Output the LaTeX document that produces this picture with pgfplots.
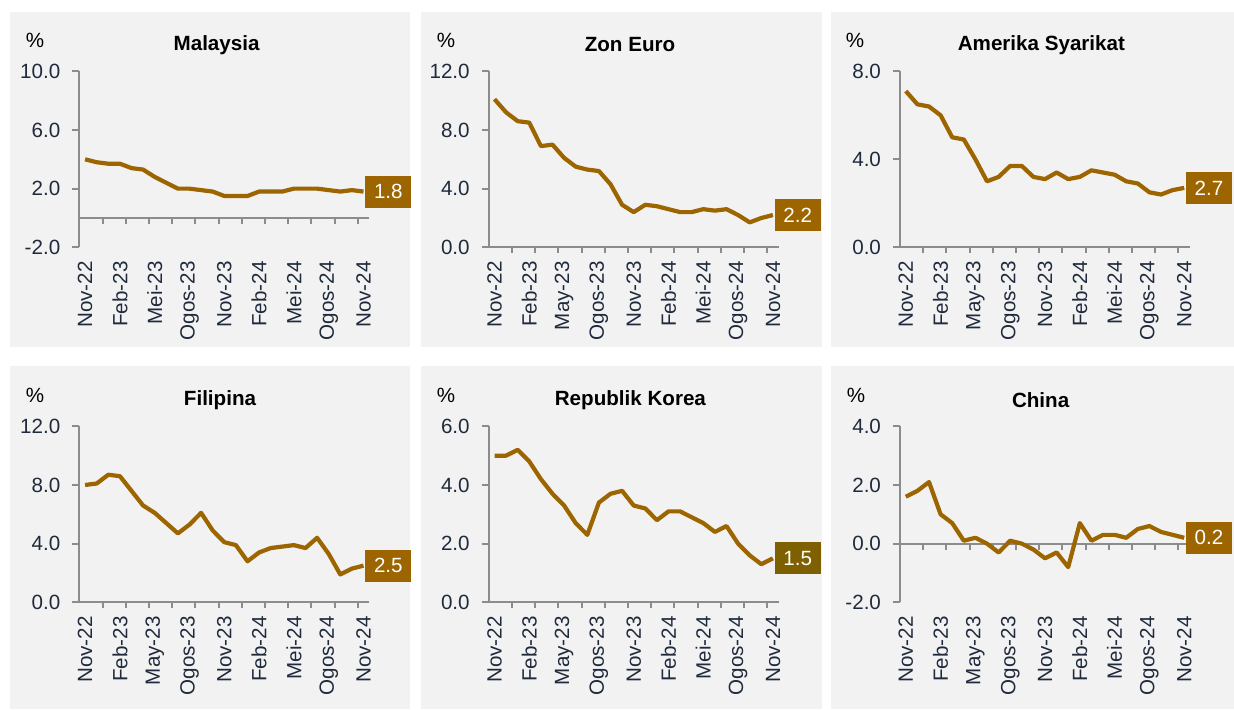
\documentclass[border=0pt]{standalone}
\usepackage{fontspec}
\setmainfont{Liberation Sans}
\usepackage{pgfplots}
\usepackage{pgfplotstable}
\pgfplotsset{compat=1.18}

\definecolor{panelbg}{HTML}{F2F2F2}
\definecolor{axgray}{HTML}{8C8C8C}
\definecolor{tickcol}{HTML}{1F2A3C}
\definecolor{gold}{HTML}{9C6500}
\definecolor{darkgold}{HTML}{7F6000}

\newcommand\lbl{\fontsize{10.3}{12}\selectfont}

% inflation, % y-o-y, Nov-22 (m=0) .. Nov-24 (m=24)
\pgfplotstableread{
m  my   ez    us   ph   kr   cn
0  4.0  10.1  7.1  8.0  5.0  1.6
1  3.8  9.2   6.5  8.1  5.0  1.8
2  3.7  8.6   6.4  8.7  5.2  2.1
3  3.7  8.5   6.0  8.6  4.8  1.0
4  3.4  6.9   5.0  7.6  4.2  0.7
5  3.3  7.0   4.9  6.6  3.7  0.1
6  2.8  6.1   4.0  6.1  3.3  0.2
7  2.4  5.5   3.0  5.4  2.7  0.0
8  2.0  5.3   3.2  4.7  2.3  -0.3
9  2.0  5.2   3.7  5.3  3.4  0.1
10 1.9  4.3   3.7  6.1  3.7  0.0
11 1.8  2.9   3.2  4.9  3.8  -0.2
12 1.5  2.4   3.1  4.1  3.3  -0.5
13 1.5  2.9   3.4  3.9  3.2  -0.3
14 1.5  2.8   3.1  2.8  2.8  -0.8
15 1.8  2.6   3.2  3.4  3.1  0.7
16 1.8  2.4   3.5  3.7  3.1  0.1
17 1.8  2.4   3.4  3.8  2.9  0.3
18 2.0  2.6   3.3  3.9  2.7  0.3
19 2.0  2.5   3.0  3.7  2.4  0.2
20 2.0  2.6   2.9  4.4  2.6  0.5
21 1.9  2.2   2.5  3.3  2.0  0.6
22 1.8  1.7   2.4  1.9  1.6  0.4
23 1.9  2.0   2.6  2.3  1.3  0.3
24 1.8  2.2   2.7  2.5  1.5  0.2
}\data

\pgfplotsset{
  panel/.style={
    scale only axis, width=145pt, height=88pt, anchor=south west,
    xmin=-0.5, xmax=24.5,
    axis x line*=bottom, axis y line*=left,
    x axis line style={draw=none},
    y axis line style={draw=axgray, line width=1pt},
    xtick={0,3,...,24},
    major x tick style={draw=none},
    ytick style={draw=axgray, line width=1pt},
    tick align=outside, major tick length=3.5pt,
    xticklabel style={rotate=90, anchor=east, font=\lbl, text=tickcol},
    yticklabel style={font=\lbl, text=tickcol, xshift=-2.5pt},
    clip=false,
  },
  series/.style={line width=2.1pt, color=gold, line join=round},
  endlabel/.style={draw=none, mark=none, point meta=explicit symbolic,
    nodes near coords,
    every node near coord/.style={anchor=west, xshift=0.75pt, fill=#1,
      text=white, font=\lbl, inner xsep=4.3pt, minimum height=16pt}},
  endlabel/.default=gold,
}

\newcommand\months[1]{xticklabels={Nov-22,Feb-23,#1-23,Ogos-23,Nov-23,Feb-24,Mei-24,Ogos-24,Nov-24}}
\newcommand\zeroaxis{%
  \draw[axgray, line width=1pt] (axis cs:-0.5,0) -- (axis cs:24.5,0);
  \pgfplotsinvokeforeach{1.5,3.5,...,23.5}{\draw[axgray, line width=1pt] (axis cs:##1,0) -- ++(0pt,-3pt);}%
}

\begin{document}
\begin{tikzpicture}
\useasboundingbox (0,0) rectangle (617pt,-354.5pt);
\fill[panelbg] (5pt,-6pt) rectangle (205pt,-173.5pt);
\fill[panelbg] (210.5pt,-6pt) rectangle (411pt,-173.5pt);
\fill[panelbg] (415.5pt,-6pt) rectangle (617pt,-173.5pt);
\fill[panelbg] (5pt,-183pt) rectangle (205pt,-354.5pt);
\fill[panelbg] (210.5pt,-183pt) rectangle (411pt,-354.5pt);
\fill[panelbg] (415.5pt,-183pt) rectangle (617pt,-354.5pt);

\begin{scope}[every node/.style={font=\lbl}]
\node at (17.5pt,-20pt) {\%};
\node at (223pt,-20pt) {\%};
\node at (427.5pt,-20pt) {\%};
\node at (17.5pt,-197.5pt) {\%};
\node at (223pt,-197.5pt) {\%};
\node at (428pt,-197.5pt) {\%};
\node[font=\lbl\bfseries] at (108.3pt,-22.5pt) {Malaysia};
\node[font=\lbl\bfseries] at (315pt,-22.5pt) {Zon Euro};
\node[font=\lbl\bfseries] at (520.7pt,-22.5pt) {Amerika Syarikat};
\node[font=\lbl\bfseries] at (110pt,-200pt) {Filipina};
\node[font=\lbl\bfseries] at (315.2pt,-200pt) {Republik Korea};
\node[font=\lbl\bfseries] at (520.3pt,-200pt) {China};
\end{scope}

% Malaysia
\begin{axis}[panel, at={(39.65pt,-123.65pt)}, ymin=-2, ymax=10,
  ytick={-2,2,6,10}, yticklabels={-2.0,2.0,6.0,10.0}, \months{Mei}]
\zeroaxis
\addplot[series] table[x=m, y=my] {\data};
\addplot[endlabel] coordinates {(24,1.8) [1.8]};
\end{axis}

% Zon Euro
\begin{axis}[panel, at={(244.35pt,-123.65pt)}, ymin=0, ymax=12,
  ytick={0,4,8,12}, yticklabels={0.0,4.0,8.0,12.0}, \months{May}]
\zeroaxis
\addplot[series] table[x=m, y=ez] {\data};
\addplot[endlabel] coordinates {(24,2.2) [2.2]};
\end{axis}

% Amerika Syarikat
\begin{axis}[panel, at={(450pt,-123.65pt)}, ymin=0, ymax=8,
  ytick={0,4,8}, yticklabels={0.0,4.0,8.0}, \months{May}]
\zeroaxis
\addplot[series] table[x=m, y=us] {\data};
\addplot[endlabel] coordinates {(24,2.7) [2.7]};
\end{axis}

% Filipina
\begin{axis}[panel, at={(39.65pt,-301.15pt)}, ymin=0, ymax=12,
  ytick={0,4,8,12}, yticklabels={0.0,4.0,8.0,12.0}, \months{May}]
\zeroaxis
\addplot[series] table[x=m, y=ph] {\data};
\addplot[endlabel] coordinates {(24,2.5) [2.5]};
\end{axis}

% Republik Korea
\begin{axis}[panel, at={(244.35pt,-301.15pt)}, ymin=0, ymax=6,
  ytick={0,2,4,6}, yticklabels={0.0,2.0,4.0,6.0}, \months{May}]
\zeroaxis
\addplot[series] table[x=m, y=kr] {\data};
\addplot[endlabel=darkgold] coordinates {(24,1.5) [1.5]};
\end{axis}

% China
\begin{axis}[panel, at={(450pt,-301.15pt)}, ymin=-2, ymax=4,
  ytick={-2,0,2,4}, yticklabels={-2.0,0.0,2.0,4.0}, \months{May}]
\zeroaxis
\addplot[series] table[x=m, y=cn] {\data};
\addplot[endlabel] coordinates {(24,0.2) [0.2]};
\end{axis}
\end{tikzpicture}
\end{document}
